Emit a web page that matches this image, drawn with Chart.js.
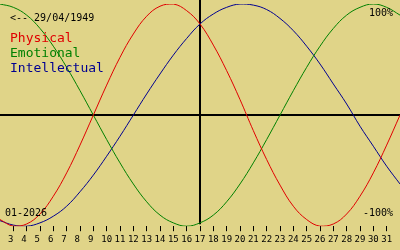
<!DOCTYPE html>
<html>
<head>
<meta charset="utf-8">
<script src="https://cdn.jsdelivr.net/npm/chart.js@4/dist/chart.umd.min.js"></script>
<style>
  html, body { margin: 0; padding: 0; background: #e0d488; }
  canvas { display: block; }
</style>
</head>
<body>
<canvas id="bioChart" width="400" height="250"></canvas>
<script>
/* =====================================================
   BIORHYTHM DATA (days 2..32)
===================================================== */

const days = [2,3,4,5,6,7,8,9,10,11,12,13,14,15,16,17,18,19,20,21,22,23,24,25,26,27,28,29,30,31,32];

const physical = [-0.94,-1.00,-0.98,-0.89,-0.73,-0.52,-0.27,0,0.27,0.52,0.73,0.89,0.98,1.00,0.94,
  0.82,0.63,0.40,0.14,-0.14,-0.40,-0.63,-0.82,-0.94,-1.00,-0.98,-0.89,-0.73,-0.52,-0.27,0];

const emotional = [1.00,0.97,0.90,0.78,0.62,0.43,0.22,0,-0.22,-0.43,-0.62,-0.78,-0.90,-0.97,-1.00,
  -0.97,-0.90,-0.78,-0.62,-0.43,-0.22,0,0.22,0.43,0.62,0.78,0.90,0.97,1.00,0.97,0.90];

const intellectual = [-0.95,-0.99,-1.00,-0.97,-0.91,-0.82,-0.69,-0.54,-0.37,-0.19,0,0.19,0.37,0.54,0.69,
  0.82,0.91,0.97,1.00,0.99,0.95,0.87,0.76,0.62,0.46,0.28,0.10,-0.10,-0.28,-0.46,-0.62];

// labelled days on the bottom axis
const tickDays = [3,4,5,6,7,8,9,10,11,12,13,14,15,16,17,18,19,20,21,22,23,24,25,26,27,28,29,30,31];

const today = 17;
const birthText = "<-- 29/04/1949";
const monthText = "01-2026";

const MONO = "'DejaVu Sans Mono', monospace";


/* =====================================================
   AXIS LINES + TEXT OVERLAY
===================================================== */

const overlay = {
  id: "overlay",
  beforeDatasetsDraw(chart) {
    const ctx = chart.ctx;
    const x = chart.scales.x, y = chart.scales.y;
    const y0 = Math.round(y.getPixelForValue(0));
    const xt = Math.round(x.getPixelForValue(today));

    ctx.save();
    ctx.strokeStyle = "#000";
    ctx.lineWidth = 2;
    ctx.beginPath();
    ctx.moveTo(0, y0);
    ctx.lineTo(chart.width, y0);
    ctx.moveTo(xt, 0);
    ctx.lineTo(xt, chart.chartArea.bottom - 2);
    ctx.stroke();
    ctx.restore();
  },
  afterDraw(chart) {
    const ctx = chart.ctx;
    ctx.save();
    ctx.textBaseline = "alphabetic";

    ctx.font = "10px " + MONO;
    ctx.fillStyle = "#000";
    ctx.textAlign = "left";
    ctx.fillText(birthText, 10, 21);
    ctx.fillText(monthText, 5, 216);
    ctx.textAlign = "right";
    ctx.fillText("100%", 393, 16);
    ctx.fillText("-100%", 393, 216);

    ctx.font = "13px " + MONO;
    ctx.textAlign = "left";
    chart.data.datasets.forEach((ds, i) => {
      ctx.fillStyle = ds.borderColor;
      ctx.fillText(ds.label, 10, 42 + i * 15);
    });
    ctx.restore();
  }
};


/* =====================================================
   CHART
===================================================== */

function series(label, values, color) {
  return {
    label: label,
    data: days.map((d, i) => ({ x: d, y: values[i] })),
    borderColor: color,
    borderWidth: 1,
    pointRadius: 0,
    tension: 0.4,
    fill: false
  };
}

new Chart(document.getElementById("bioChart"), {
  type: "line",
  data: {
    datasets: [
      series("Physical", physical, "#e00000"),
      series("Emotional", emotional, "#008000"),
      series("Intellectual", intellectual, "#000090")
    ]
  },
  options: {
    responsive: false,
    animation: false,
    layout: { padding: { top: 4, bottom: 2, left: 0, right: 0 } },
    plugins: {
      legend: { display: false },
      tooltip: { enabled: false }
    },
    scales: {
      x: {
        type: "linear",
        min: days[0],
        max: days[days.length - 1],
        afterBuildTicks: scale => {
          scale.ticks = tickDays.map(d => ({ value: d }));
        },
        grid: {
          drawOnChartArea: false,
          drawTicks: true,
          tickLength: 5,
          color: "#000",
          lineWidth: 1
        },
        border: { display: false },
        ticks: {
          autoSkip: false,
          maxRotation: 0,
          padding: 3,
          color: "#000",
          font: { family: MONO, size: 9 },
          callback: v => (v < 10 ? v + " " : "" + v)
        }
      },
      y: {
        display: false,
        min: -1,
        max: 1
      }
    }
  },
  plugins: [overlay]
});
</script>
</body>
</html>
